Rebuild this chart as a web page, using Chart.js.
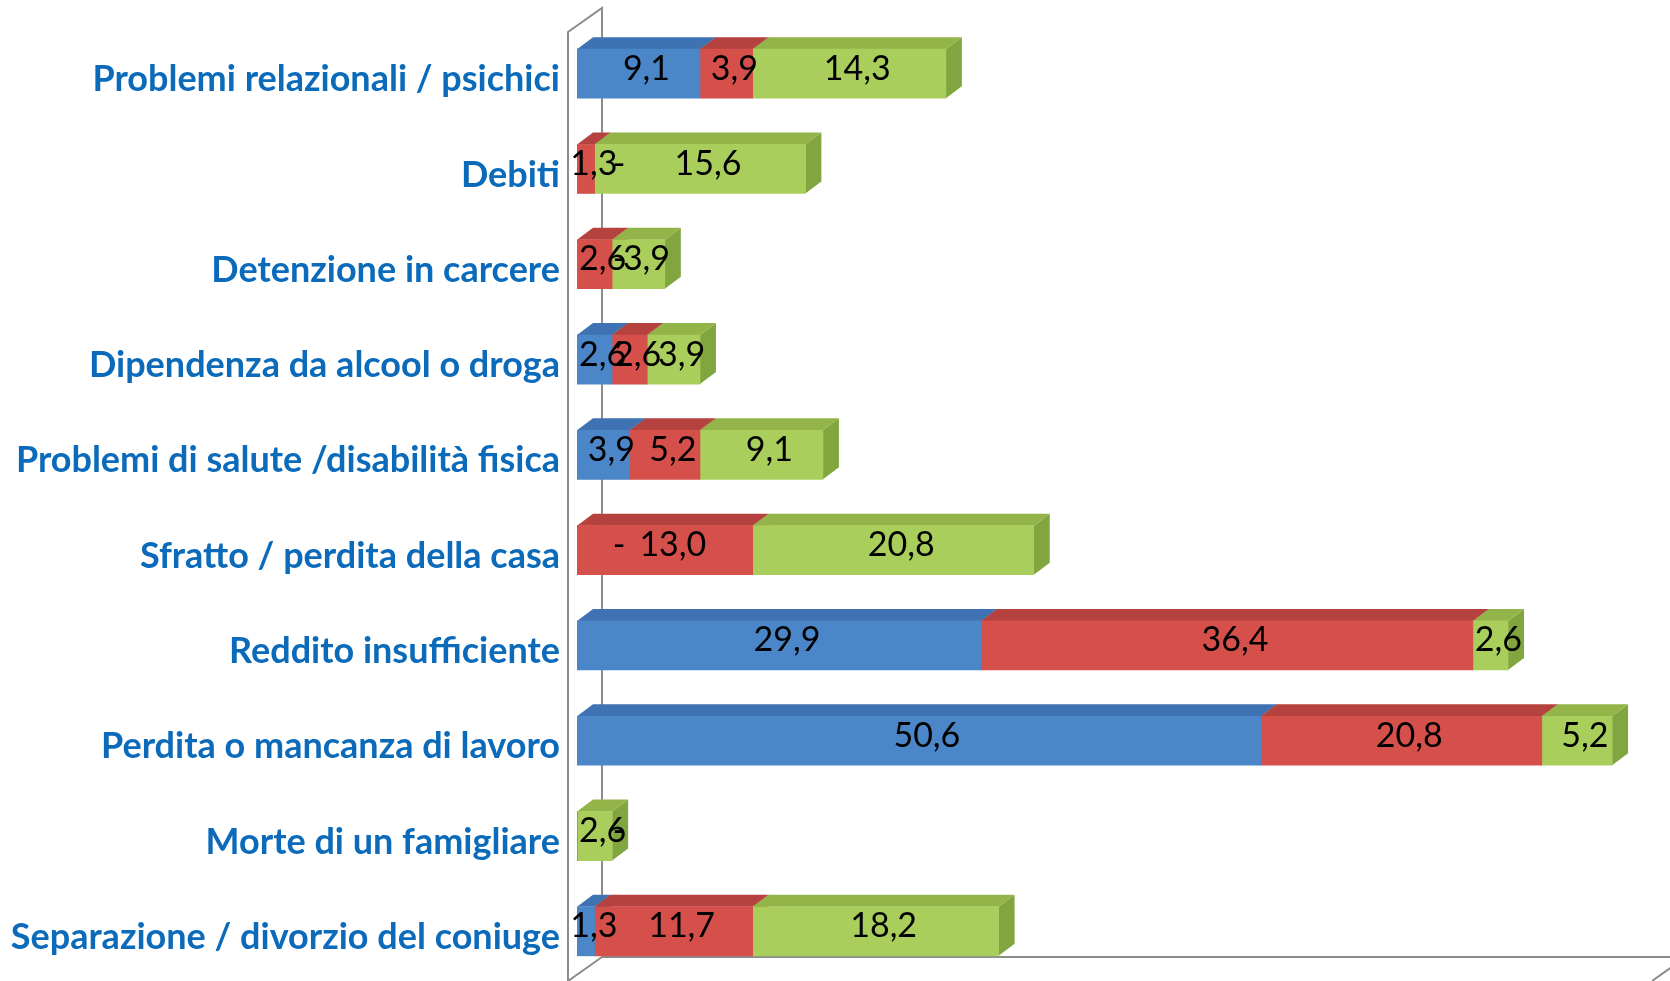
<!DOCTYPE html>
<html>
<head>
<meta charset="utf-8">
<script src="https://cdn.jsdelivr.net/npm/chart.js@4"></script>
<style>
  html, body { margin: 0; padding: 0; background: #fff; }
  #box { width: 1670px; height: 981px; position: relative; }
</style>
</head>
<body>
<div id="box"><canvas id="grafico"></canvas></div>
<script>
// dati
var categorie = [
    "Problemi relazionali / psichici",
    "Debiti",
    "Detenzione in carcere",
    "Dipendenza da alcool o droga",
    "Problemi di salute /disabilità fisica",
    "Sfratto / perdita della casa",
    "Reddito insufficiente",
    "Perdita o mancanza di lavoro",
    "Morte di un famigliare",
    "Separazione / divorzio del coniuge"
];
var serieBlu = [9.1, 0, 0, 2.6, 3.9, 0, 29.9, 50.6, 0, 1.3];
var serieRossa = [3.9, 1.3, 2.6, 2.6, 5.2, 13.0, 36.4, 20.8, 0, 11.7];
var serieVerde = [14.3, 15.6, 3.9, 3.9, 9.1, 20.8, 2.6, 5.2, 2.6, 18.2];
var assexMax = 80;

var colori = [
    { front: "#4A86C8", top: "#3E72B2", side: "#3A69A5" },
    { front: "#D54F4B", top: "#B5423F", side: "#A83C39" },
    { front: "#A9CE5B", top: "#93B449", side: "#81A63F" }
];
var dx = 16, dy = 12;

var cubi3d = {
    id: 'cubi3d',
    beforeDatasetsDraw: function (chart) {
        var ctx = chart.ctx;
        var area = chart.chartArea;
        var x0 = chart.scales.x.getPixelForValue(0);
        var xm = chart.scales.x.getPixelForValue(assexMax);

        // pareti e pavimento
        ctx.save();
        ctx.strokeStyle = "#8c8c8c";
        ctx.lineWidth = 2;
        ctx.beginPath();
        ctx.moveTo(x0 - 9, area.bottom + 4);
        ctx.lineTo(x0 - 9, area.top + 6);
        ctx.lineTo(x0 + 25, area.top - 18);
        ctx.lineTo(x0 + 25, area.bottom - 22);
        ctx.lineTo(xm + 25, area.bottom - 22);
        ctx.moveTo(x0 - 9, area.bottom + 2);
        ctx.lineTo(x0 + 25, area.bottom - 22);
        ctx.moveTo(xm - 6, area.bottom + 2);
        ctx.lineTo(xm + 28, area.bottom - 22);
        ctx.stroke();

        // facce superiori e laterali
        chart.data.datasets.forEach(function (ds, i) {
            var meta = chart.getDatasetMeta(i);
            meta.data.forEach(function (el, j) {
                if (!ds.data[j]) return;
                var p = el.getProps(['x', 'y', 'base', 'height'], true);
                var xa = Math.min(p.x, p.base), xb = Math.max(p.x, p.base);
                var top = p.y - p.height / 2, bottom = p.y + p.height / 2;
                ctx.fillStyle = colori[i].side;
                ctx.beginPath();
                ctx.moveTo(xb, top);
                ctx.lineTo(xb + dx, top - dy);
                ctx.lineTo(xb + dx, bottom - dy);
                ctx.lineTo(xb, bottom);
                ctx.closePath();
                ctx.fill();
                ctx.fillStyle = colori[i].top;
                ctx.beginPath();
                ctx.moveTo(xa, top);
                ctx.lineTo(xa + dx, top - dy);
                ctx.lineTo(xb + dx, top - dy);
                ctx.lineTo(xb, top);
                ctx.closePath();
                ctx.fill();
            });
        });
        ctx.restore();
    },
    afterDatasetsDraw: function (chart) {
        var ctx = chart.ctx;
        var x0 = chart.scales.x.getPixelForValue(0);
        ctx.save();
        ctx.fillStyle = "#000";
        ctx.font = "34px Lato, 'Open Sans', sans-serif";
        ctx.textAlign = "center";
        ctx.textBaseline = "middle";
        chart.data.datasets.forEach(function (ds, i) {
            var meta = chart.getDatasetMeta(i);
            meta.data.forEach(function (el, j) {
                var v = ds.data[j];
                var p = el.getProps(['x', 'y', 'base'], true);
                var testo, xt;
                if (!v) {
                    testo = "-";
                    xt = x0 + 42;
                } else {
                    testo = v.toFixed(1).replace('.', ',');
                    xt = (p.x + p.base) / 2 + dx / 2;
                }
                ctx.fillText(testo, xt, p.y - dy / 2 + 1);
            });
        });
        ctx.restore();
    }
};

var grafico = new Chart(document.getElementById("grafico"), {
    type: 'bar',
    data: {
        labels: categorie,
        datasets: [
            { label: "Blu", data: serieBlu, backgroundColor: colori[0].front },
            { label: "Rosso", data: serieRossa, backgroundColor: colori[1].front },
            { label: "Verde", data: serieVerde, backgroundColor: colori[2].front }
        ]
    },
    options: {
        indexAxis: 'y',
        responsive: true,
        maintainAspectRatio: false,
        animation: false,
        layout: { padding: { top: 26, bottom: 2, left: 0, right: 12 } },
        datasets: { bar: { barThickness: 49, borderWidth: 0 } },
        plugins: { legend: { display: false }, tooltip: { enabled: false } },
        scales: {
            x: { stacked: true, min: 0, max: assexMax, display: false },
            y: {
                stacked: true,
                grid: { display: false },
                border: { display: false },
                ticks: {
                    color: "#0B6BBA",
                    padding: 9,
                    labelOffset: 6,
                    font: { family: "Lato, 'Open Sans', sans-serif", size: 36, weight: 'bold' }
                },
                afterFit: function (scale) {
                    scale.width = 577;
                    scale.paddingTop = 0;
                    scale.paddingBottom = 0;
                }
            }
        }
    },
    plugins: [cubi3d]
});
</script>
</body>
</html>
